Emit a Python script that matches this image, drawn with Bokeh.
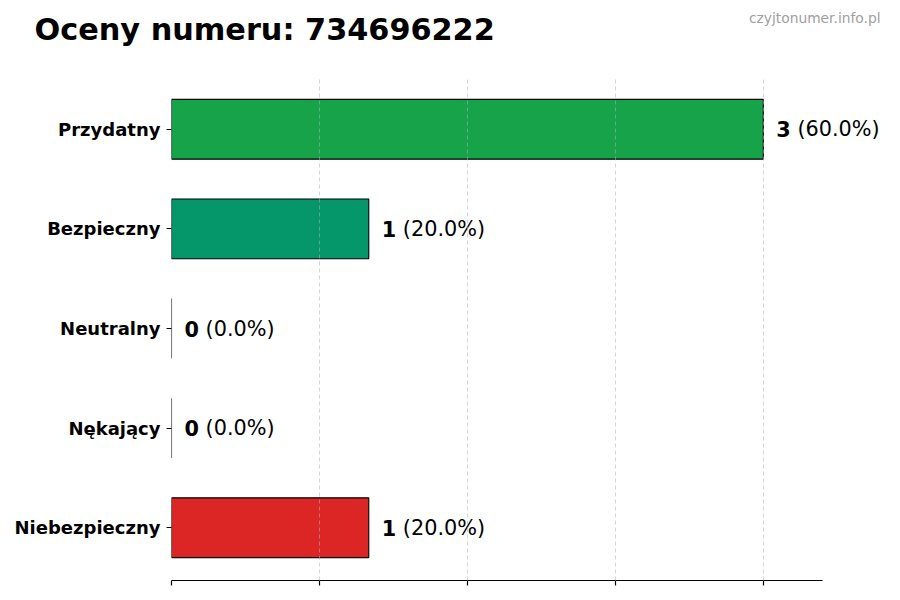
from bokeh.plotting import figure
from bokeh.layouts import column
from bokeh.models import ColumnDataSource, FixedTicker, Label, LabelSet, CustomJSTickFormatter
from bokeh.core.properties import value
from bokeh.embed import file_html
from bokeh.resources import INLINE

categories = ["Przydatny", "Bezpieczny", "Neutralny", "Nękający", "Niebezpieczny"]
counts = [3, 1, 0, 0, 1]
colors = ["#16a34a", "#059669", "#6b7280", "#ea580c", "#dc2626"]
x_ticks = [0, 0.75, 1.5, 2.25, 3.0]
title_text = "Oceny numeru: 734696222"
watermark = "czyjtonumer.info.pl"

total = sum(counts)
pcts = [f"({c / total * 100:.1f}%)" for c in counts]
FS = 20.8
num_w = [len(str(c)) * 0.696 * FS for c in counts]

src = ColumnDataSource(dict(
    cat=categories,
    cnt=counts,
    cnt_txt=[str(c) for c in counts],
    pct=pcts,
    color=colors,
    off2=[13 + w + 0.318 * FS for w in num_w],
))

W = 892
HEAD_H = 76
MAIN_H = 516
FL, FR_AXIS = 171, 822  # frame left, end of x-axis line (canvas px)
TITLE_FS = 30.3
WM_FS = 13.8

# ---------- header (title + watermark) ----------
head = figure(width=W, height=HEAD_H, output_backend="svg", toolbar_location=None,
              x_axis_type=None, y_axis_type=None, frame_align=False,
              min_border_left=0, min_border_right=0, min_border_top=0, min_border_bottom=0)
head.outline_line_color = None
head.grid.grid_line_color = None
head.add_layout(Label(x=34, y=HEAD_H - 40 + 0.35 * TITLE_FS, x_units="screen", y_units="screen",
                      text=title_text,
                      text_font="DejaVu Sans", text_font_size=f"{TITLE_FS}px", text_font_style="bold",
                      text_baseline="alphabetic", text_align="left", text_color="black"))
head.add_layout(Label(x=880, y=HEAD_H - 22 + 0.35 * WM_FS, x_units="screen", y_units="screen",
                      text=watermark,
                      text_font="DejaVu Sans", text_font_size=f"{WM_FS}px",
                      text_baseline="alphabetic", text_align="right", text_color="#a0a0a0"))

# ---------- main chart ----------
x_axis_end = max(counts) * 1.1
x_view_end = x_axis_end * (W - FL) / (FR_AXIS - FL)  # room for value labels on the right

p = figure(width=W, height=MAIN_H, y_range=list(reversed(categories)), x_range=(0, x_view_end),
           output_backend="svg", toolbar_location=None, frame_align=False,
           min_border_left=FL, min_border_right=0, min_border_top=0, min_border_bottom=12)
p.outline_line_color = None
p.y_range.range_padding = 0.012

p.hbar(y="cat", left=0, right="cnt", height=0.6, source=src,
       fill_color="color", line_color="black", line_width=1.1)

p.add_layout(LabelSet(x="cnt", y="cat", text="cnt_txt", source=src, x_offset=13,
                      text_font=value("DejaVu Sans"), text_font_size=value(f"{FS}px"),
                      text_font_style=value("bold"),
                      text_baseline=value("middle"), text_align=value("left"), text_color=value("black")))
p.add_layout(LabelSet(x="cnt", y="cat", text="pct", source=src, x_offset="off2",
                      text_font=value("DejaVu Sans"), text_font_size=value(f"{FS}px"),
                      text_baseline=value("middle"), text_align=value("left"), text_color=value("black")))

# axes
p.xaxis.ticker = FixedTicker(ticks=x_ticks)
p.xaxis.bounds = (0, x_axis_end)
p.xaxis.formatter = CustomJSTickFormatter(code="return ''")
p.xaxis.major_label_text_font_size = "0px"
p.xaxis.major_tick_out = 5
p.xaxis.major_tick_in = 0
p.xaxis.minor_tick_out = 0
p.xaxis.minor_tick_in = 0
p.xaxis.axis_line_color = "black"
p.xaxis.axis_line_width = 1.2
p.xaxis.major_tick_line_width = 1.2

p.yaxis.axis_line_color = None
p.yaxis.major_tick_out = 5
p.yaxis.major_tick_in = 0
p.yaxis.major_label_text_font = "DejaVu Sans"
p.yaxis.major_label_text_font_size = "18px"
p.yaxis.major_label_text_font_style = "bold"
p.yaxis.major_label_text_color = "black"
p.yaxis.major_label_standoff = 6

p.ygrid.grid_line_color = None
p.xgrid.ticker = FixedTicker(ticks=x_ticks)
p.xgrid.grid_line_color = "#b0b0b0"
p.xgrid.grid_line_alpha = 0.55
p.xgrid.grid_line_dash = "4 3"
p.xgrid.level = "overlay"

layout = column(head, p, spacing=0)
open("out.html", "w").write(file_html(layout, INLINE))
